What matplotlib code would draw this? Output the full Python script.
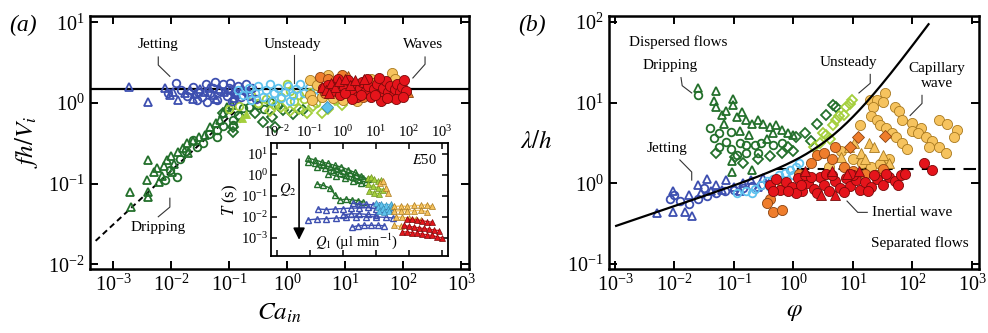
import numpy as np
import matplotlib.pyplot as plt
from matplotlib.ticker import LogLocator, NullLocator

plt.rcParams['font.family'] = 'Liberation Serif'
plt.rcParams['mathtext.fontset'] = 'stix'

dgreen = '#23702b'
blue = '#3d4fb0'
sky = '#5ec2ee'
lime = '#a4cf3c'
yellow = '#f6c35e'
orange = '#ef7d2c'
red = '#e5141b'

# ---- panel (a): f h / V_i against Ca_in, values as (log10 Ca, log10 fh/V) ----
a_jet_tri = [(-2.72, 0.20), (-2.40, 0.01), (-2.10, 0.19), (-2.02, 0.10), (-1.96, 0.14), (-1.88, 0.04),
             (-1.76, 0.12), (-1.68, 0.16), (-1.58, 0.11), (-1.50, 0.17), (-1.42, 0.13), (-1.35, 0.18),
             (-1.28, 0.10), (-1.18, 0.17), (-1.08, 0.14), (-0.98, 0.16), (-0.88, 0.11), (-0.78, 0.17),
             (-0.66, 0.14), (-1.62, 0.05), (-1.22, 0.05), (-0.92, 0.06)]
a_jet_circ = [(-1.91, 0.25), (-2.05, 0.12), (-1.82, 0.16), (-1.72, 0.09), (-1.62, 0.20), (-1.54, 0.14),
              (-1.46, 0.07), (-1.40, 0.23), (-1.33, 0.12), (-1.27, 0.19), (-1.20, 0.04), (-1.15, 0.15),
              (-1.10, 0.23), (-1.04, 0.09), (-1.00, 0.18), (-0.95, 0.02), (-0.90, 0.13), (-0.85, 0.21),
              (-0.80, 0.07), (-0.72, 0.15), (-0.65, 0.09), (-0.60, 0.19), (-0.54, 0.05), (-1.38, 0.01),
              (-1.25, 0.26), (-1.56, 0.04), (-0.98, 0.25), (-0.70, 0.23)]
a_sky_circ = [(-0.85, 0.16), (-0.76, 0.10), (-0.66, 0.19), (-0.56, 0.12), (-0.50, 0.21), (-0.42, 0.08),
              (-0.36, 0.16), (-0.30, 0.23), (-0.22, 0.12), (-0.15, 0.18), (-0.10, 0.06), (-0.04, 0.14),
              (0.02, 0.21), (0.10, 0.10), (0.16, 0.17), (0.22, 0.23), (0.30, 0.12), (0.38, 0.19),
              (0.46, 0.09), (-0.62, 0.04), (-0.26, 0.03), (0.06, 0.03)]
a_sky_dia = [(0.69, -0.05)]
a_lime_circ = [(-1.00, -0.08), (-0.82, -0.04), (-0.62, 0.10), (-0.50, 0.00), (-0.36, 0.05), (-0.20, -0.02),
               (-0.10, 0.08), (0.00, 0.23), (0.06, 0.15), (0.12, 0.02), (0.20, 0.10), (0.30, 0.05),
               (0.40, 0.13), (0.50, 0.00), (0.56, 0.20), (0.62, 0.08)]
a_lime_dia = [(-0.30, -0.10), (-0.10, -0.05), (0.20, -0.08), (0.45, -0.04), (0.70, -0.07), (0.95, -0.02),
              (0.82, 0.04), (0.60, -0.13), (0.35, -0.12), (0.05, -0.10)]
a_lime_tri = [(-0.78, -0.19), (-0.70, -0.14)]
a_drip_tri = [(-2.71, -1.10), (-2.69, -1.29), (-2.41, -0.95), (-2.40, -1.10), (-2.39, -1.16), (-2.24, -0.80),
              (-2.21, -0.98), (-2.40, -0.71), (-2.30, -0.85), (-2.12, -0.78), (-2.07, -0.71), (-2.00, -0.66),
              (-1.95, -0.75), (-1.88, -0.61), (-1.80, -0.56), (-1.72, -0.50), (-1.62, -0.47), (-1.52, -0.42),
              (-1.41, -0.40), (-1.32, -0.30), (-1.22, -0.25), (-1.16, -0.21), (-1.10, -0.12), (-1.03, -0.05),
              (-0.95, -0.02), (-1.98, -0.85), (-1.70, -0.62), (-2.15, -0.90)]
a_drip_circ = [(-1.90, -0.92), (-2.02, -0.83), (-1.85, -0.70), (-1.75, -0.60), (-1.62, -0.46), (-1.55, -0.54),
               (-1.45, -0.50), (-1.35, -0.38), (-1.21, -0.42), (-1.21, -0.33), (-1.10, -0.28), (-0.93, -0.21),
               (-0.93, -0.27), (-0.85, -0.15), (-0.76, -0.06), (-0.66, -0.05), (-0.50, -0.02), (-0.29, 0.01),
               (-0.15, -0.03), (-0.40, -0.08), (-2.10, -0.95)]
a_drip_dia = [(-0.93, -0.36), (-1.10, -0.12), (-0.81, -0.17), (-0.41, -0.24), (-0.26, -0.17), (-0.07, -0.09),
              (0.28, -0.09), (-0.55, -0.12), (-0.20, -0.30), (0.10, -0.14), (-0.93, -0.30)]
a_yel = [(0.40, 0.28), (0.52, 0.22), (0.40, 0.10), (0.43, 0.04), (0.80, 0.06), (0.97, 0.04), (1.81, 0.37),
         (1.86, 0.30), (1.78, 0.07), (1.65, 0.05), (0.60, 0.08), (1.20, 0.02), (1.45, 0.30), (0.70, 0.35),
         (1.10, 0.25)]
a_org = [(0.57, 0.32), (0.70, 0.30), (0.95, 0.35), (1.02, 0.20), (1.21, 0.22), (1.31, 0.08), (0.85, 0.15),
         (1.50, 0.25), (1.60, 0.12), (0.65, 0.12), (1.95, 0.18), (0.75, 0.20)]
a_org_tri = [(2.09, 0.14), (1.05, 0.33)]
a_red = [(0.62, 0.18), (0.70, 0.22), (0.78, 0.15), (0.85, 0.25), (0.92, 0.10), (0.98, 0.20), (1.05, 0.28),
         (1.10, 0.15), (1.15, 0.22), (1.20, 0.08), (1.25, 0.18), (1.30, 0.26), (1.35, 0.13), (1.40, 0.21),
         (1.45, 0.07), (1.50, 0.17), (1.55, 0.24), (1.60, 0.11), (1.65, 0.19), (1.70, 0.27), (1.74, 0.14),
         (1.78, 0.21), (1.82, 0.09), (1.86, 0.17), (1.90, 0.24), (1.94, 0.13), (1.98, 0.20), (2.02, 0.29),
         (2.05, 0.15), (1.12, 0.05), (1.38, 0.30), (1.62, 0.02), (1.88, 0.05), (0.88, 0.30), (1.00, 0.12),
         (1.28, 0.10), (1.52, 0.10), (1.72, 0.06), (2.00, 0.08), (1.58, 0.31)]
a_red_tri = [(0.60, 0.20), (0.68, 0.16), (0.75, 0.25), (0.82, 0.20), (0.90, 0.27), (1.00, 0.30), (1.08, 0.22),
             (1.18, 0.28), (1.32, 0.30), (0.72, 0.12)]

fh_plateau = 1.5
drip_scaling = (-3.3, -0.9, 2.0 / 3.0)   # log10 Ca start, end, slope of the dripping law

# ---- inset: period T against Q1, rows at fixed Q2, (log10 Q1, log10 T) ----
in_green = [
    [(-1.06, 0.80), (-0.85, 0.72), (-0.65, 0.62), (-0.45, 0.55), (-0.25, 0.45), (-0.05, 0.38), (0.15, 0.25),
     (0.35, 0.12), (0.55, -0.05), (0.75, -0.20)],
    [(-1.06, 0.62), (-0.85, 0.55), (-0.62, 0.48), (-0.40, 0.38), (-0.20, 0.28), (0.00, 0.20), (0.20, 0.10),
     (0.40, -0.02), (0.60, -0.15)],
    [(-0.80, 0.40), (-0.55, 0.32), (-0.30, 0.25), (-0.10, 0.10), (0.10, 0.00), (0.30, -0.12), (0.50, -0.25),
     (0.70, -0.35)],
    [(-0.45, 0.05), (-0.20, -0.05), (0.05, -0.15), (0.30, -0.28), (0.55, -0.40)],
    [(-0.79, -0.43), (-0.60, -0.50), (-0.39, -0.62), (-0.24, -0.95), (-0.09, -1.19), (0.10, -1.15),
     (0.27, -1.19), (0.45, -1.22), (0.61, -1.29)],
]
in_lime = [
    [(0.75, -0.15), (0.85, -0.08), (0.95, -0.20), (1.05, -0.30), (1.15, -0.25)],
    [(0.75, -0.45), (0.90, -0.55), (1.05, -0.60), (1.20, -0.70)],
    [(0.80, -0.75), (0.95, -0.85), (1.10, -0.90)],
]
in_blue = [
    [(0.30, -1.35), (0.50, -1.38), (0.70, -1.40), (0.90, -1.42), (1.10, -1.45)],
    [(-0.76, -1.62), (-0.50, -1.65), (-0.25, -1.62), (0.00, -1.60), (0.25, -1.58), (0.50, -1.58),
     (0.75, -1.55), (1.00, -1.60), (1.25, -1.62), (1.52, -1.67)],
    [(0.00, -1.90), (0.25, -1.85), (0.50, -1.85), (0.75, -1.88), (1.00, -1.90)],
    [(-1.06, -2.14), (-0.80, -2.10), (-0.50, -2.08), (-0.20, -2.05), (0.10, -2.02), (0.40, -2.00),
     (0.70, -1.98), (1.00, -2.00), (1.30, -2.02), (1.52, -2.05)],
    [(0.27, -2.48), (0.45, -2.42), (0.65, -2.40), (0.85, -2.40), (1.05, -2.40), (1.25, -2.42)],
]
in_sky = [
    [(1.00, -1.35), (1.15, -1.38), (1.30, -1.42), (1.45, -1.40)],
    [(1.05, -1.55), (1.20, -1.58), (1.35, -1.60), (1.50, -1.55)],
    [(1.10, -1.72), (1.25, -1.75), (1.40, -1.70)],
]
in_yel = [
    [(1.12, -0.40), (1.22, -0.30), (1.30, -0.60), (1.35, -0.85)],
    [(1.55, -1.50), (1.75, -1.48), (1.95, -1.50), (2.15, -1.45), (2.35, -1.45), (2.55, -1.42), (2.70, -1.50)],
    [(1.55, -1.72), (1.75, -1.70), (1.95, -1.72), (2.15, -1.70), (2.35, -1.68), (2.55, -1.75)],
    [(1.60, -2.00), (1.80, -2.02), (2.00, -2.05), (2.20, -2.08), (2.35, -2.15)],
    [(1.55, -2.40), (1.75, -2.45)],
]
in_red = [
    [(1.95, -2.10), (2.10, -2.12), (2.25, -2.15), (2.40, -2.18), (2.55, -2.22), (2.70, -2.25)],
    [(1.85, -2.40), (2.00, -2.45), (2.15, -2.48), (2.30, -2.52), (2.45, -2.55), (2.60, -2.58), (2.75, -2.62),
     (2.90, -2.65)],
    [(1.80, -2.70), (1.95, -2.72), (2.10, -2.75), (2.25, -2.78), (2.40, -2.82), (2.55, -2.85), (2.70, -2.88),
     (2.85, -2.95), (3.00, -3.00)],
]

# ---- panel (b): lambda/h against phi, (log10 phi, log10 lambda/h) ----
b_jet_tri = [(-2.30, -0.37), (-2.03, -0.36), (-1.83, -0.36), (-1.71, -0.40), (-2.03, -0.09), (-1.61, -0.02),
             (-1.46, 0.05), (-1.30, -0.02), (-1.13, 0.04), (-1.00, -0.04), (-0.85, 0.00), (-0.71, 0.04),
             (-0.52, 0.07), (-1.55, -0.12), (-1.20, -0.08), (-0.90, -0.10), (-0.60, -0.04), (-1.75, -0.15),
             (-0.40, 0.02), (-1.38, -0.10)]
b_jet_circ = [(-2.08, -0.19), (-2.00, -0.14), (-1.75, -0.26), (-1.60, -0.20), (-1.45, -0.16), (-1.30, -0.12),
              (-1.15, -0.10), (-1.00, -0.08), (-0.85, -0.06), (-0.70, -0.03), (-0.55, -0.02), (-0.40, 0.00),
              (-0.30, 0.05), (-1.90, -0.22), (-1.50, -0.06)]
b_sky = [(-0.95, -0.12), (-0.80, -0.10), (-0.65, -0.07), (-0.55, -0.02), (-0.45, 0.03), (-0.35, 0.05),
         (-0.25, 0.10), (-0.15, 0.13), (-0.05, 0.17), (0.05, 0.20), (-0.70, -0.12), (-0.40, -0.05),
         (-0.20, 0.04), (0.00, 0.10), (0.10, 0.25)]
b_drip_tri = [(-1.61, 1.18), (-1.31, 1.15), (-1.30, 0.94), (-1.13, 0.90), (-1.01, 1.04), (-1.01, 0.97),
              (-1.16, 0.74), (-0.86, 0.88), (-0.80, 0.79), (-0.70, 0.74), (-0.52, 0.74), (-0.40, 0.70),
              (-0.29, 0.72), (-0.20, 0.66), (-1.03, 0.14), (-1.03, 0.28), (-0.69, 0.16), (-1.33, 1.02),
              (-0.95, 0.82), (-0.60, 0.78), (-0.10, 0.62), (0.00, 0.60), (-0.75, 0.60), (-0.45, 0.55),
              (-1.20, 0.85), (-0.90, 0.65), (-0.35, 0.62)]
b_drip_circ = [(-1.61, 1.09), (-1.41, 0.68), (-1.33, 0.56), (-1.25, 0.62), (-1.05, 0.63), (-1.14, 0.51),
               (-0.90, 0.50), (-0.80, 0.47), (-0.65, 0.47), (-0.80, 0.37), (-1.25, 0.45), (-1.05, 0.42),
               (-0.55, 0.50), (-0.35, 0.48), (-0.20, 0.50), (-0.60, 0.38), (-0.95, 0.35)]
b_drip_dia = [(-1.31, 0.38), (-0.99, 0.32), (-0.85, 0.25), (-0.60, 0.30), (-0.40, 0.34), (-0.20, 0.38),
              (0.05, 0.57), (-0.10, 0.45), (0.20, 0.62), (0.39, 0.74), (0.55, 0.85), (0.66, 0.97),
              (0.72, 0.94), (0.30, 0.52), (0.00, 0.40)]
b_lime = [(0.44, 0.50), (0.55, 0.60), (0.66, 0.72), (0.77, 0.84), (0.89, 0.94), (0.99, 1.03), (0.50, 0.62),
          (0.62, 0.55), (0.72, 0.78), (0.85, 0.85), (0.35, 0.45), (0.95, 0.98)]
b_yel = [(1.53, 1.12), (1.28, 1.03), (1.40, 1.03), (1.50, 1.01), (1.70, 0.94), (1.78, 0.90), (1.33, 0.94),
         (1.31, 0.84), (1.40, 0.78), (1.45, 0.72), (1.56, 0.68), (1.65, 0.62), (1.73, 0.57), (1.83, 0.50),
         (1.90, 0.43), (1.11, 0.72), (1.83, 0.78), (2.00, 0.75), (2.00, 0.65), (2.15, 0.69), (2.10, 0.62),
         (2.22, 0.57), (2.33, 0.53), (2.27, 0.45), (2.45, 0.45), (2.57, 0.37), (2.45, 0.78), (2.58, 0.74),
         (2.75, 0.66), (2.70, 0.57), (1.00, 0.30), (1.15, 0.25), (1.30, 0.20), (1.45, 0.24), (0.80, 0.40),
         (0.60, 0.20), (1.60, 0.30)]
b_org_dia = [(1.08, 0.57), (1.53, 0.59), (0.95, 0.45)]
b_org = [(0.39, 0.35), (0.52, 0.38), (0.65, 0.30), (0.85, 0.20), (1.00, 0.15), (1.20, 0.12), (-0.40, -0.19),
         (-0.20, -0.05), (0.10, 0.12), (0.30, 0.25), (1.40, 0.10), (-0.35, -0.35), (0.70, 0.45), (-0.20, -0.33),
         (-0.45, -0.25), (1.50, 0.18)]
b_yel_tri = [(0.94, 0.45), (1.27, 0.50), (1.35, 0.45), (1.02, 0.50), (1.13, 0.38), (0.80, 0.32), (1.50, 0.35),
             (1.60, 0.25), (1.20, 0.30)]
b_red = [(-0.40, -0.02), (-0.30, 0.05), (-0.22, -0.08), (-0.12, 0.02), (-0.02, -0.05), (0.08, 0.06),
         (0.15, -0.10), (0.25, 0.00), (0.35, -0.07), (0.45, 0.08), (0.52, -0.02), (0.60, -0.10), (0.70, 0.03),
         (0.78, -0.06), (0.88, 0.06), (0.95, -0.03), (1.05, 0.04), (1.12, -0.08), (1.20, 0.02), (1.30, -0.04),
         (1.40, 0.05), (1.50, -0.02), (1.60, 0.08), (1.70, 0.03), (1.80, 0.10), (1.88, 0.12), (-0.35, -0.10),
         (0.05, -0.12), (0.40, -0.12), (0.85, -0.11), (1.35, 0.10), (1.00, 0.10), (0.20, 0.10), (2.20, 0.25),
         (2.32, 0.16), (0.55, 0.12), (-0.10, -0.10), (0.30, 0.08), (0.65, 0.10), (1.25, -0.10), (1.55, 0.12),
         (1.75, -0.02), (0.12, -0.02), (0.95, 0.12)]
b_red_tri = [(0.69, -0.15), (0.47, -0.15), (0.65, 0.15), (0.20, 0.15), (1.10, 0.15), (0.90, 0.12)]

lam_plateau = 1.5
# lambda/h = A phi^(1/4) (1 + phi/phi_c)^(3/4)
curve_A, curve_phic = 1.65, 5.0
curve_range = (-2.98, 2.27)


def pts(data):
    a = np.array(data)
    return 10 ** a[:, 0], 10 ** a[:, 1]


def open_pts(ax, data, marker, color, ms=6.0, mew=1.3, z=3):
    x, y = pts(data)
    ax.plot(x, y, ls='none', marker=marker, mfc='none', mec=color, ms=ms, mew=mew, zorder=z)


def filled_pts(ax, data, marker, color, edge, ms=7.3, z=4):
    x, y = pts(data)
    ax.plot(x, y, ls='none', marker=marker, mfc=color, mec=edge, ms=ms, mew=0.6, zorder=z)


def style_axes(ax, xlim, ylim, size=14.5, length=6, width=1.4, spine=1.8):
    ax.set_xscale('log')
    ax.set_yscale('log')
    ax.set_xlim(*xlim)
    ax.set_ylim(*ylim)
    ax.xaxis.set_major_locator(LogLocator(base=10, numticks=20))
    ax.yaxis.set_major_locator(LogLocator(base=10, numticks=20))
    ax.xaxis.set_minor_locator(NullLocator())
    ax.yaxis.set_minor_locator(NullLocator())
    ax.tick_params(which='major', direction='in', length=length, width=width, labelsize=size,
                   top=True, right=True, pad=4)
    for s in ax.spines.values():
        s.set_linewidth(spine)


def leader(ax, path):
    a = np.array(path)
    ax.plot(10 ** a[:, 0], 10 ** a[:, 1], color='#333333', lw=0.8, zorder=6)


fig = plt.figure(figsize=(9.88, 3.33), dpi=100)

# ================= panel (a) =================
ax = fig.add_axes([0.0911, 0.1922, 0.3836, 0.7598])
style_axes(ax, (10 ** -3.397, 10 ** 3.138), (10 ** -2.057, 10 ** 1.078))

ax.axhline(fh_plateau, color='black', lw=1.6, zorder=2)
xs = np.logspace(drip_scaling[0], drip_scaling[1], 50)
ax.plot(xs, 10 ** (drip_scaling[2] * (np.log10(xs) + 2.41) - 1.115), color='black', lw=1.4,
        ls=(0, (3, 2)), zorder=2)

open_pts(ax, a_drip_tri, '^', dgreen)
open_pts(ax, a_drip_circ, 'o', dgreen, ms=5.5)
open_pts(ax, a_drip_dia, 'D', dgreen, ms=5.0)
open_pts(ax, a_lime_circ, 'o', lime, ms=5.5)
open_pts(ax, a_lime_dia, 'D', lime, ms=5.0)
filled_pts(ax, a_lime_tri, '^', lime, lime, ms=6)
open_pts(ax, a_jet_tri, '^', blue)
open_pts(ax, a_jet_circ, 'o', blue, ms=5.5)
open_pts(ax, a_sky_circ, 'o', sky, ms=5.5)
filled_pts(ax, a_sky_dia, 'D', sky, '#3a8fb5', ms=6)
filled_pts(ax, a_yel, 'o', yellow, '#a8791f')
filled_pts(ax, a_org, 'o', orange, '#8a4310')
filled_pts(ax, a_org_tri, '^', orange, '#8a4310')
filled_pts(ax, a_red, 'o', red, '#7a0a0a', z=5)
filled_pts(ax, a_red_tri, '^', red, '#7a0a0a', z=5)

tk = dict(fontsize=11, ha='center', va='center', zorder=7)
ax.text(10 ** -2.22, 10 ** 0.72, 'Jetting', **tk)
leader(ax, [(-2.22, 0.57), (-2.22, 0.47), (-2.02, 0.33)])
ax.text(10 ** 0.10, 10 ** 0.73, 'Unsteady', **tk)
leader(ax, [(0.12, 0.59), (0.12, 0.25)])
ax.text(10 ** 2.34, 10 ** 0.73, 'Waves', **tk)
leader(ax, [(2.38, 0.57), (2.38, 0.48), (2.17, 0.31)])
ax.text(10 ** -2.22, 10 ** -1.54, 'Dripping', **tk)
leader(ax, [(-2.02, -1.18), (-2.02, -1.29), (-2.22, -1.41)])

ax.set_xlabel('$Ca_{in}$', fontsize=18, labelpad=4)
ax.set_ylabel('$fh/V_i$', fontsize=18, labelpad=6)
fig.text(0.023, 0.925, '(a)', fontsize=17, style='italic', ha='center', va='center')

# ---- inset ----
ai = fig.add_axes([0.2743, 0.2312, 0.1791, 0.3393])
style_axes(ai, (10 ** -2.18, 10 ** 3.18), (10 ** -3.86, 10 ** 1.52), size=10.5, length=4, width=1.1,
           spine=1.3)
ai.tick_params(labeltop=True, labelbottom=False, pad=2)
for rows, c, filled, edge in [(in_green, dgreen, False, None), (in_lime, lime, True, '#6f9420'),
                              (in_blue, blue, False, None), (in_sky, sky, True, '#3a8fb5'),
                              (in_yel, yellow, True, '#a8791f'), (in_red, red, True, '#7a0a0a')]:
    for row in rows:
        x, y = pts(row)
        ai.plot(x, y, color=c, lw=1.0, marker='^', ms=4.4, mew=1.0 if not filled else 0.5,
                mfc=c if filled else 'none', mec=edge if filled else c)
ai.annotate('', xy=(10 ** -1.33, 10 ** -3.22), xytext=(10 ** -1.33, 10 ** 0.88),
            arrowprops=dict(arrowstyle='-|>,head_width=0.35,head_length=0.7', color='black', lw=1.2))
ai.text(10 ** -1.67, 10 ** -0.71, '$Q_2$', fontsize=10.5, ha='center', va='center')
ai.text(10 ** 0.42, 10 ** -3.15, '$Q_1$ (µl min$^{-1}$)', fontsize=10.5, ha='center', va='center')
ai.text(10 ** 2.85, 10 ** 0.72, '$E$50', fontsize=10.5, ha='right', va='center')
ai.set_ylabel('$T$ (s)', fontsize=12, labelpad=1)

# ================= panel (b) =================
bx = fig.add_axes([0.6164, 0.1922, 0.3745, 0.7598])
style_axes(bx, (10 ** -3.10, 10 ** 3.118), (10 ** -1.062, 10 ** 2.074))

phi = np.logspace(curve_range[0], curve_range[1], 200)
bx.plot(phi, curve_A * phi ** 0.25 * (1 + phi / curve_phic) ** 0.75, color='black', lw=1.6, zorder=8)
bx.plot([0.5, 10 ** 3.118], [lam_plateau, lam_plateau], color='black', lw=1.5, ls=(0, (6, 4)), zorder=2)

open_pts(bx, b_drip_tri, '^', dgreen)
open_pts(bx, b_drip_circ, 'o', dgreen, ms=5.5)
open_pts(bx, b_drip_dia, 'D', dgreen, ms=5.0)
open_pts(bx, b_jet_tri, '^', blue)
open_pts(bx, b_jet_circ, 'o', blue, ms=5.5)
open_pts(bx, b_sky, 'o', sky, ms=5.5)
open_pts(bx, b_lime, 'D', lime, ms=5.0)
filled_pts(bx, b_yel, 'o', yellow, '#a8791f')
filled_pts(bx, b_yel_tri, '^', yellow, '#a8791f')
filled_pts(bx, b_org, 'o', orange, '#8a4310')
filled_pts(bx, b_org_dia, 'D', orange, '#8a4310', ms=6.5)
filled_pts(bx, b_red, 'o', red, '#7a0a0a', z=5)
filled_pts(bx, b_red_tri, '^', red, '#7a0a0a', z=5)

bx.text(10 ** -1.94, 10 ** 1.75, 'Dispersed flows', **tk)
bx.text(10 ** -2.08, 10 ** 1.46, 'Dripping', **tk)
leader(bx, [(-1.89, 1.31), (-1.87, 1.21), (-1.71, 1.12)])
bx.text(10 ** -2.13, 10 ** 0.43, 'Jetting', **tk)
leader(bx, [(-1.91, 0.29), (-1.71, 0.14), (-1.71, 0.04)])
bx.text(10 ** 0.92, 10 ** 1.50, 'Unsteady', **tk)
leader(bx, [(1.29, 1.35), (1.29, 1.24), (1.10, 1.12)])
bx.text(10 ** 2.41, 10 ** 1.33, 'Capillary\nwave', linespacing=1.2, **tk)
leader(bx, [(2.16, 1.09), (2.16, 0.99), (1.96, 0.84)])
bx.text(10 ** 1.32, 10 ** -0.36, 'Inertial wave', fontsize=11, ha='left', va='center', zorder=7)
leader(bx, [(0.90, -0.22), (1.08, -0.36), (1.24, -0.36)])
bx.text(10 ** 2.13, 10 ** -0.74, 'Separated flows', **tk)

bx.set_xlabel(r'$\varphi$', fontsize=18, labelpad=4)
bx.set_ylabel(r'$\lambda/h$', fontsize=18, rotation=0, labelpad=22, va='center')
fig.text(0.538, 0.925, '(b)', fontsize=17, style='italic', ha='center', va='center')

fig.savefig('out.png', dpi=100)
